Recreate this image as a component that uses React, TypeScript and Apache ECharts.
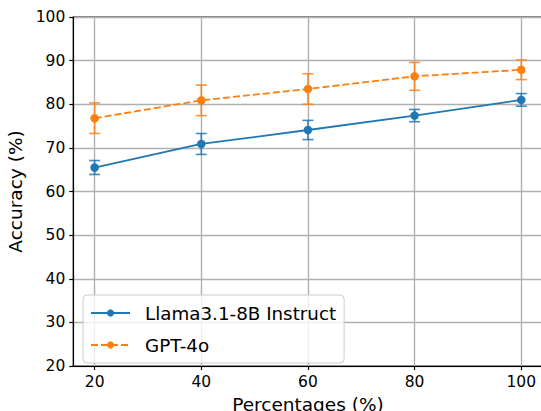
import React, { useEffect, useRef } from "react";
import * as echarts from "echarts";

const percentages = [20, 40, 60, 80, 100];
const llamaMean = [65.5, 70.9, 74.1, 77.4, 81.0];
const llamaErr = [1.6, 2.4, 2.2, 1.4, 1.45];
const gptMean = [76.8, 80.9, 83.5, 86.4, 87.9];
const gptErr = [3.5, 3.5, 3.5, 3.2, 2.25];
const xTicks = [20, 40, 60, 80, 100];
const seriesNames = ["Llama3.1-8B Instruct", "GPT-4o"];

const BLUE = "#1f77b4";
const ORANGE = "#ff7f0e";
const FONT = "DejaVu Sans";

function errorSeries(mean: number[], err: number[], color: string, z: number) {
  const data = percentages.map((p, i) => [p, mean[i] - err[i], mean[i] + err[i]]);
  return {
    type: "custom",
    z,
    silent: true,
    data,
    encode: { x: 0, y: [1, 2] },
    renderItem: (_params: any, api: any) => {
      const x = api.value(0);
      const lo = api.coord([x, api.value(1)]);
      const hi = api.coord([x, api.value(2)]);
      const hw = 5.5;
      const style = { stroke: color, lineWidth: 1.6, opacity: 0.85 };
      return {
        type: "group",
        children: [
          { type: "line", shape: { x1: lo[0], y1: lo[1], x2: hi[0], y2: hi[1] }, style },
          { type: "line", shape: { x1: lo[0] - hw, y1: lo[1], x2: lo[0] + hw, y2: lo[1] }, style },
          { type: "line", shape: { x1: hi[0] - hw, y1: hi[1], x2: hi[0] + hw, y2: hi[1] }, style },
        ],
      };
    },
  };
}

export default function App() {
  const ref = useRef<HTMLDivElement>(null);
  useEffect(() => {
    document.body.style.margin = "0";
    const chart = echarts.init(ref.current!, null, { renderer: "svg" });
    chart.setOption({
      animation: false,
      backgroundColor: "#ffffff",
      textStyle: { fontFamily: FONT },
      grid: {
        left: 73.3,
        top: 17,
        right: -1.6,
        bottom: 45,
        containLabel: false,
        outerBoundsMode: "none",
        show: true,
        borderColor: "#000",
        borderWidth: 1.2,
        backgroundColor: "transparent",
      },
      xAxis: {
        type: "value",
        min: 16,
        max: 104,
        name: "Percentages (%)",
        nameLocation: "middle",
        nameGap: 27,
        nameTextStyle: { fontFamily: FONT, fontSize: 18.5, color: "#000" },
        axisLine: { show: true, onZero: false, lineStyle: { color: "#000", width: 1.2 } },
        axisTick: { show: true, customValues: xTicks, length: 4, lineStyle: { color: "#000", width: 1.2 } },
        axisLabel: { customValues: xTicks, margin: 8, fontFamily: FONT, fontSize: 15.5, color: "#000" },
        splitLine: { show: true, lineStyle: { color: "#b0b0b0", width: 1.4 } },
      },
      yAxis: {
        type: "value",
        min: 20,
        max: 100,
        interval: 10,
        name: "Accuracy (%)",
        nameLocation: "middle",
        nameGap: 41,
        nameTextStyle: { fontFamily: FONT, fontSize: 18.5, color: "#000" },
        axisLine: { show: true, lineStyle: { color: "#000", width: 1.2 } },
        axisTick: { show: true, length: 4, lineStyle: { color: "#000", width: 1.2 } },
        axisLabel: { margin: 8, fontFamily: FONT, fontSize: 15.5, color: "#000" },
        splitLine: { show: true, lineStyle: { color: "#b0b0b0", width: 1.4 } },
      },
      legend: {
        data: seriesNames,
        orient: "vertical",
        left: 83,
        top: 295,
        itemWidth: 39,
        itemHeight: 9,
        itemGap: 14,
        padding: [9, 8, 9, 7],
        backgroundColor: "rgba(255,255,255,0.8)",
        borderColor: "#cccccc",
        borderWidth: 1,
        borderRadius: 4,
        textStyle: { fontFamily: FONT, fontSize: 18.3, color: "#000", lineHeight: 14, padding: [0, 0, 0, 10] },
      },
      series: [
        errorSeries(llamaMean, llamaErr, BLUE, 2),
        errorSeries(gptMean, gptErr, ORANGE, 2),
        {
          name: seriesNames[0],
          type: "line",
          z: 3,
          data: percentages.map((p, i) => [p, llamaMean[i]]),
          symbol: "circle",
          symbolSize: 8.5,
          itemStyle: { color: BLUE },
          lineStyle: { color: BLUE, width: 1.8 },
        },
        {
          name: seriesNames[1],
          type: "line",
          z: 3,
          data: percentages.map((p, i) => [p, gptMean[i]]),
          symbol: "circle",
          symbolSize: 8.5,
          itemStyle: { color: ORANGE },
          lineStyle: { color: ORANGE, width: 1.8, type: [7, 3] },
        },
      ],
    });
    return () => chart.dispose();
  }, []);
  return <div ref={ref} style={{ width: 541, height: 411 }} />;
}
